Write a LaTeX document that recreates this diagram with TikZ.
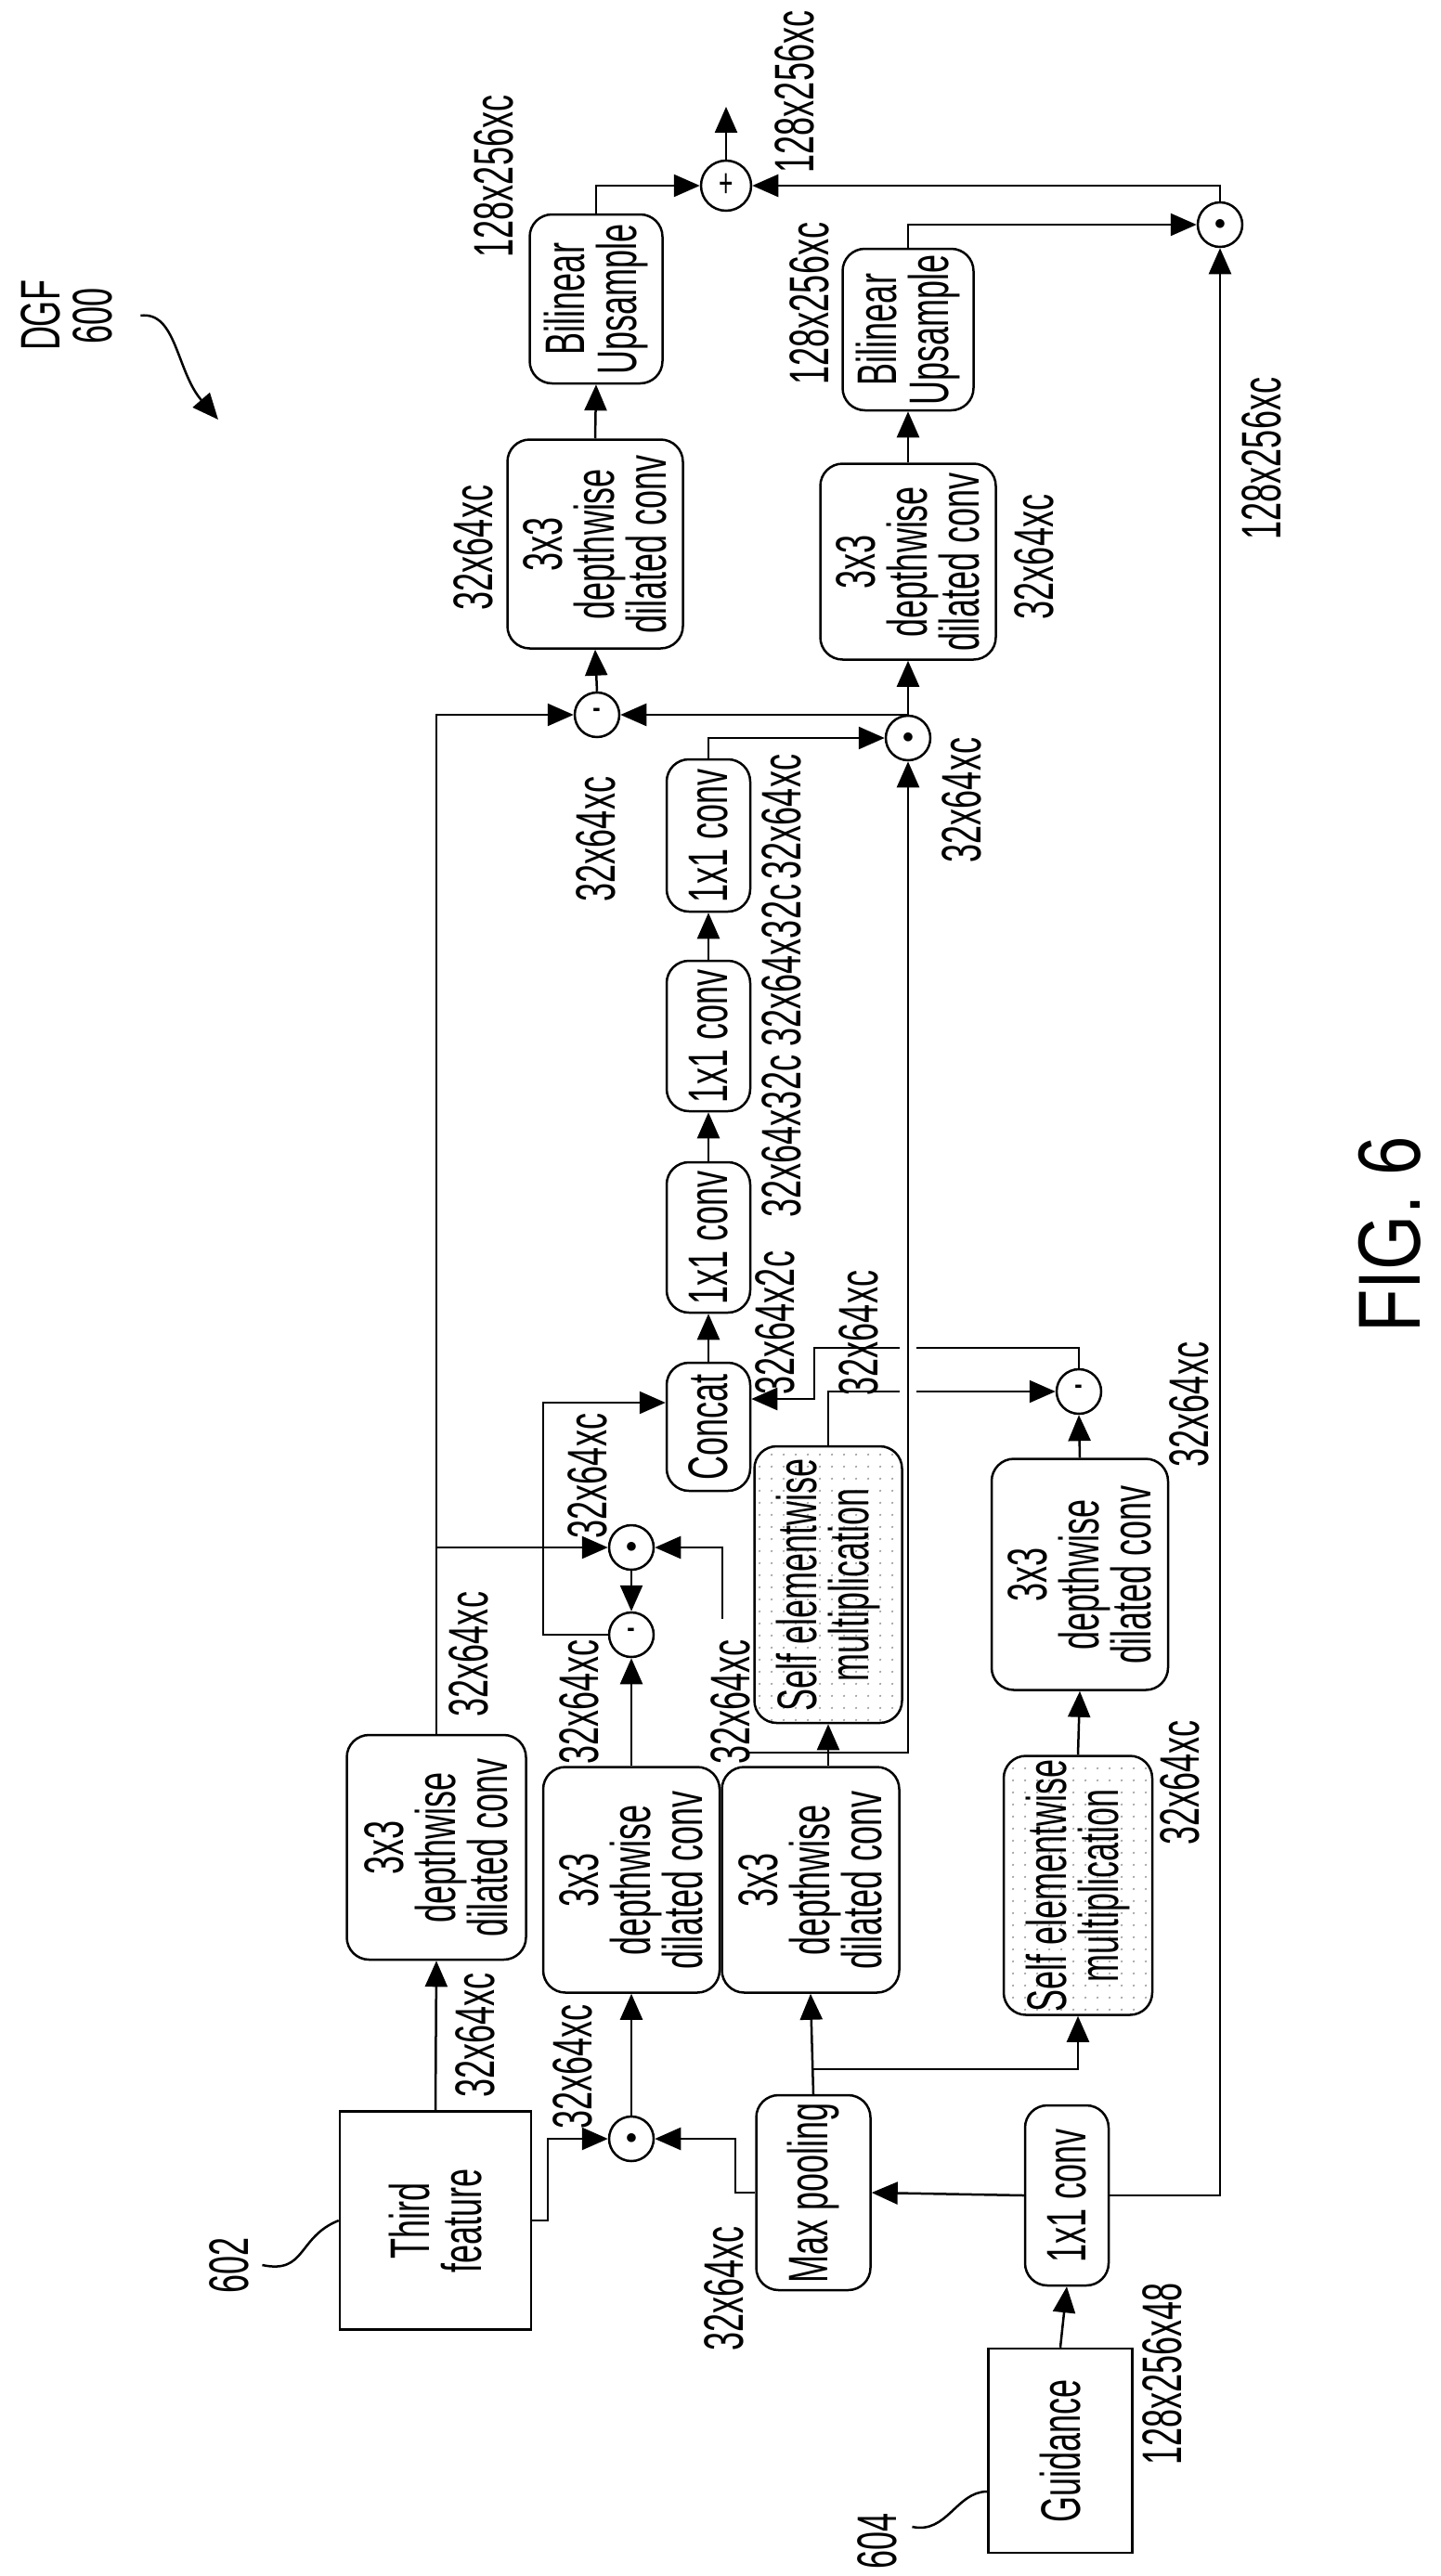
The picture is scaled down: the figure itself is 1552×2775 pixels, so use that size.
\documentclass[tikz,border=0pt]{standalone}
\usepackage{fontspec}
\setmainfont{Liberation Sans}[FakeStretch=0.6]
\newfontfamily\figfont{Liberation Sans}[FakeStretch=0.8]
\usetikzlibrary{arrows.meta,calc,patterns.meta}
\newcommand\labfont{\fontsize{60}{56}\selectfont}
\begin{document}
\begin{tikzpicture}[x=1pt,y=-1pt,
 box/.style={draw, rounded corners=24pt, line width=2.5pt, rotate=90, align=center, inner sep=0pt, font=\labfont},
 sbox/.style={draw, line width=2.5pt, rotate=90, align=center, inner sep=0pt, font=\labfont},
 dotted box/.style={box, pattern={Dots[distance=13pt,radius=1.3pt]}, pattern color=gray!80},
 lab/.style={rotate=90, inner sep=0pt, font=\labfont, align=center},
 ln/.style={line width=2.5pt},
 arr/.style={line width=2.5pt,-{Triangle[length=28pt,width=24pt]}},
 op/.style={circle, draw, fill=white, line width=2.5pt, minimum size=48pt, inner sep=0pt, font=\fontsize{44}{44}\selectfont},
 odot/.style={op}]
\useasboundingbox (0,0) rectangle (1552,2775);

% boxes
\node[box, minimum width=182pt, minimum height=143pt] (bu1) at (642,322) {Bilinear\\Upsample};
\node[box, minimum width=225pt, minimum height=189pt] (dc1) at (641,586) {3x3\\depthwise\\dilated conv};
\node[box, minimum width=174pt, minimum height=141pt] (bu2) at (978,355) {Bilinear\\Upsample};
\node[box, minimum width=211pt, minimum height=189pt] (dc2) at (978,605) {3x3\\depthwise\\dilated conv};
\node[box, minimum width=164pt, minimum height=90pt] (c3) at (763,900) {1x1 conv};
\node[box, minimum width=162pt, minimum height=90pt] (c2) at (763,1116) {1x1 conv};
\node[box, minimum width=162pt, minimum height=90pt] (c1) at (763,1333) {1x1 conv};
\node[box, minimum width=138pt, minimum height=90pt] (cat) at (763,1537) {Concat};
\node[dotted box, minimum width=298pt, minimum height=159pt] (se1) at (892,1707) {Self elementwise\\multiplication};
\node[box, minimum width=249pt, minimum height=190pt] (dc4) at (1163,1696) {3x3\\depthwise\\dilated conv};
\node[dotted box, minimum width=279pt, minimum height=160pt] (se2) at (1161,2031) {Self elementwise\\multiplication};
\node[box, minimum width=242pt, minimum height=193pt] (dcA) at (470,1990) {3x3\\depthwise\\dilated conv};
\node[box, minimum width=243pt, minimum height=190pt] (dcB) at (680,2025) {3x3\\depthwise\\dilated conv};
\node[box, minimum width=243pt, minimum height=191pt] (dcC) at (873,2025) {3x3\\depthwise\\dilated conv};
\node[box, minimum width=210pt, minimum height=123pt] (mp) at (876,2362) {Max pooling};
\node[box, minimum width=194pt, minimum height=90pt] (cb) at (1149,2365) {1x1 conv};
\node[sbox, minimum width=235pt, minimum height=206pt] (tf) at (469,2392) {Third\\feature};
\node[sbox, minimum width=220pt, minimum height=155pt] (gd) at (1142,2640) {Guidance};

% operators
\node[op, minimum size=54pt] (plus) at (782,200) {+};
\node[odot] (odA) at (1314,242) {$\bullet$};
\node[op] (mT) at (643,770) {-};
\node[odot] (od2) at (978,795) {$\bullet$};
\node[odot] (od3) at (680,1667) {$\bullet$};
\node[op] (m3) at (680,1761) {-};
\node[op] (m4) at (1162,1499) {-};
\node[odot] (od4) at (680,2304) {$\bullet$};

% coordinates
\coordinate (out1) at (782,115);
\coordinate (br1) at (978,770);
\coordinate (j1) at (470,1667);
\coordinate (j2) at (585,1761);
\coordinate (f1) at (778,1744);
\coordinate (q1) at (877,1452);
\coordinate (q2) at (877,1507);
\coordinate (h1) at (806,1888);
\coordinate (t1) at (590,2392);
\coordinate (p1) at (792,2362);
\coordinate (b2) at (876,2229);
\coordinate (ar1) at (235,452);

% connectors
\draw[arr] (bu1.east) |- (plus.west);
\draw[arr] (plus.north) -- (out1);
\draw[arr] (odA.north) |- (plus.east);
\draw[arr] (cb.south) -| (odA.south);
\draw[arr] (bu2.east) |- (odA.west);
\draw[arr] (dc2.east) -- (bu2.west);
\draw[arr] (dc1.east) -- (bu1.west);
\draw[arr] (mT.north) -- (dc1.west);
\draw[arr] (od2.north) -- (dc2.west);
\draw[arr] (br1) -- (mT.east);
\draw[arr] (dcA.east) |- (mT.west);
\draw[arr] (c3.east) |- (od2.west);
\draw[arr] (c2.east) -- (c3.west);
\draw[arr] (c1.east) -- (c2.west);
\draw[arr] (cat.east) -- (c1.west);
\draw[arr] (j1) -- (od3.west);
\draw[arr] (m3.west) -- (j2) |- ($(cat.north)+(0,-26)$);
\draw[arr] (od3.south) -- (m3.north);
\draw[arr] (dcB.east) -- (m3.south);
\draw[arr] (f1) |- (od3.east);
\draw[arr] (m4.north) |- (q1) -- (q2) -- (q2 -| cat.south);
\draw[arr] (se1.east) |- (m4.west);
\draw[arr] (dc4.east) -- (m4.south);
\draw[arr] (se2.east) -- (dc4.west);
\draw[arr] (se1.west |- dcC.east) -- (se1.west);
\draw[arr] (h1) -| (od2.south);
\draw[ln, preaction={draw=white,line width=18pt}] (978,1530) -- (978,1420);
\draw[arr] (tf.east) -- (dcA.west);
\draw[arr] (tf.south) -- (t1) |- (od4.west);
\draw[arr] (od4.north) -- (dcB.west);
\draw[arr] (mp.north) -- (p1) |- (od4.east);
\draw[arr] (mp.east) -- (dcC.west);
\draw[arr] (b2) -| (se2.west);
\draw[arr] (cb.north) -- (mp.south);
\draw[arr] (gd.east) -- (cb.west);

% labels
\node[lab] (dgf) at (72,340) {DGF\\600};
\draw[arr] ($(dgf.south)+(30,0)$) .. controls (190,335) and (190,400) .. (ar1);
\node[lab] (l602) at (247,2440) {602};
\draw[ln] ($(l602.south)+(14,0)$) .. controls (330,2450) and (320,2410) .. (tf.north);
\node[lab] (l604) at (945,2737) {604};
\draw[ln] ($(l604.south)+(16,-15)$) .. controls (1020,2730) and (1030,2684) .. ($(gd.north)+(0,44)$);

\node[lab] at (532,190) {128x256xc};
\node[lab] at (856,99) {128x256xc};
\node[lab] at (872,327) {128x256xc};
\node[lab] at (510,590) {32x64xc};
\node[lab] at (1114,600) {32x64xc};
\node[lab] at (642,904) {32x64xc};
\node[lab] at (1036,862) {32x64xc};
\node[lab] at (1359,494) {128x256xc};
\node[lab] at (842,880) {32x64xc};
\node[lab] at (842,1040) {32x64x32c};
\node[lab] at (842,1224) {32x64x32c};
\node[lab] at (835,1425) {32x64x2c};
\node[lab] at (633,1590) {32x64xc};
\node[lab] at (505,1782) {32x64xc};
\node[lab] at (624,1833) {32x64xc};
\node[lab] at (787,1833) {32x64xc};
\node[lab] at (925,1436) {32x64xc};
\node[lab] at (1281,1513) {32x64xc};
\node[lab] at (1271,1920) {32x64xc};
\node[lab] at (512,2192) {32x64xc};
\node[lab] at (617,2226) {32x64xc};
\node[lab] at (780,2465) {32x64xc};
\node[lab] at (1252,2557) {128x256x48};
\node[lab, font=\figfont\fontsize{95}{95}\selectfont] at (1497,1330) {FIG. 6};
\end{tikzpicture}
\end{document}
